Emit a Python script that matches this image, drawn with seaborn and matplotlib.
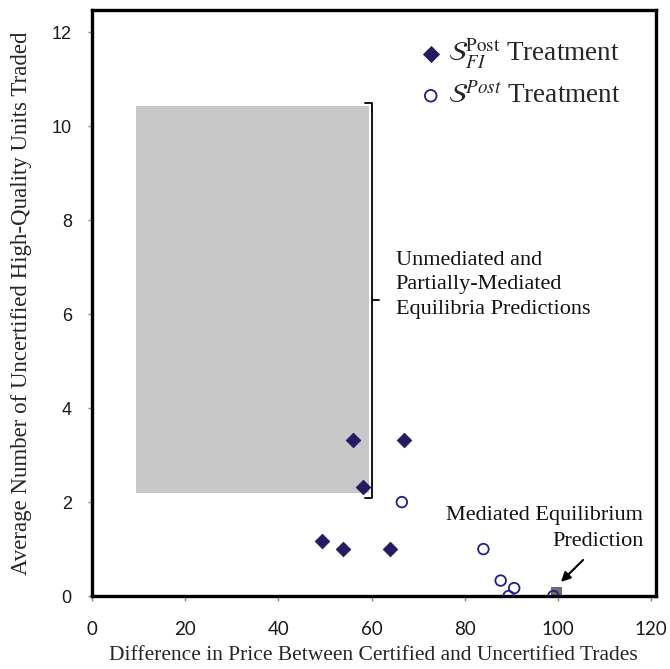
import matplotlib
matplotlib.use("Agg")
import matplotlib.pyplot as plt
import seaborn as sns
import pandas as pd
from matplotlib.patches import Rectangle

sns.set_theme(style="white")
plt.rcParams['mathtext.fontset'] = 'stix'
plt.rcParams['font.family'] = ['Liberation Serif', 'DejaVu Serif']

# Data
fi_x = [56.0, 66.9, 58.1, 49.3, 53.8, 63.9]
fi_y = [3.33, 3.33, 2.33, 1.17, 1.0, 1.0]
post_x = [66.5, 84.0, 87.7, 90.6, 89.4, 99.0]
post_y = [2.0, 1.0, 0.33, 0.17, 0.0, 0.0]
mediated_x = [99.7]
mediated_y = [0.075]
region_x = [9.46, 59.4]
region_y = [2.19, 10.43]
x_ticks = [0, 20, 40, 60, 80, 100, 120]
y_ticks = [0, 2, 4, 6, 8, 10, 12]

navy = "#251b60"
df_fi = pd.DataFrame({"x": fi_x, "y": fi_y})
df_post = pd.DataFrame({"x": post_x, "y": post_y})
df_med = pd.DataFrame({"x": mediated_x, "y": mediated_y})

fig = plt.figure(figsize=(6.7, 6.69), dpi=100)
ax = fig.add_axes([0.137, 0.109, 0.842, 0.876])

ax.add_patch(Rectangle((region_x[0], region_y[0]), region_x[1] - region_x[0],
                       region_y[1] - region_y[0], facecolor="#c8c8c8",
                       edgecolor="none", zorder=1))

sns.scatterplot(data=df_med, x="x", y="y", ax=ax, marker="s", s=63,
                color="#6e6e6e", edgecolor="none", zorder=2, legend=False)
sns.scatterplot(data=df_fi, x="x", y="y", ax=ax, marker="D", s=55,
                color=navy, edgecolor=navy, zorder=3,
                label=r"$\mathcal{S}_{FI}^{\mathrm{Post}}$ Treatment")
sns.scatterplot(data=df_post, x="x", y="y", ax=ax, marker="o", s=58,
                facecolor="none", edgecolor="#20208a", linewidth=1.3, zorder=3,
                label=r"$\mathcal{S}^{Post}$ Treatment")

# Bracket
bx, bl, br = 60.1, 58.5, 61.7
ax.plot([bl, bx, bx, bl], [10.49, 10.49, 2.085, 2.085], color="black", lw=1.3, zorder=4,
        solid_joinstyle="round")
ax.plot([bx, br], [6.3, 6.3], color="black", lw=1.3, zorder=4)

ax.text(65.2, 6.62, "Unmediated and\nPartially-Mediated\nEquilibria Predictions",
        fontsize=16, va="center", ha="left", linespacing=1.42, color="#111111")
ax.text(118.3, 1.44, "Mediated Equilibrium\nPrediction", fontsize=16,
        ha="right", va="center", linespacing=1.45, color="#111111")
ax.annotate("", xy=(100.2, 0.26), xytext=(105.8, 0.81),
            arrowprops=dict(arrowstyle="-|>", color="black", lw=1.5, mutation_scale=14))

ax.set_xlim(0, 121)
ax.set_ylim(0, 12.47)
ax.set_xticks(x_ticks)
ax.set_yticks(y_ticks)
ax.set_xticklabels([str(v) for v in x_ticks], fontsize=13.5, family=["Lato", "DejaVu Sans"], color="#1a1a1a")
ax.set_yticklabels([str(v) for v in y_ticks], fontsize=13, family=["Liberation Sans", "DejaVu Sans"], color="#1a1a1a")
ax.tick_params(axis="x", which="major", direction="out", length=3.6, width=1, color="#888888", pad=14,
               bottom=True)
ax.tick_params(axis="y", which="major", direction="out", length=3, width=1, color="#888888", pad=11.4,
               left=True)
for s in ax.spines.values():
    s.set_color("black")
    s.set_linewidth(2.4)

ax.set_xlabel("Difference in Price Between Certified and Uncertified Trades", fontsize=15.5, labelpad=6)
ax.set_ylabel("Average Number of Uncertified High-Quality Units Traded", fontsize=16.5, labelpad=14)

leg = ax.legend(loc="upper left", bbox_to_anchor=(0.5816, 0.955), frameon=False,
                fontsize=19.5, handlelength=0.8, handletextpad=0.25, labelspacing=0.42,
                borderpad=0, borderaxespad=0, markerscale=1.1)

fig.savefig("out.png", dpi=100)
